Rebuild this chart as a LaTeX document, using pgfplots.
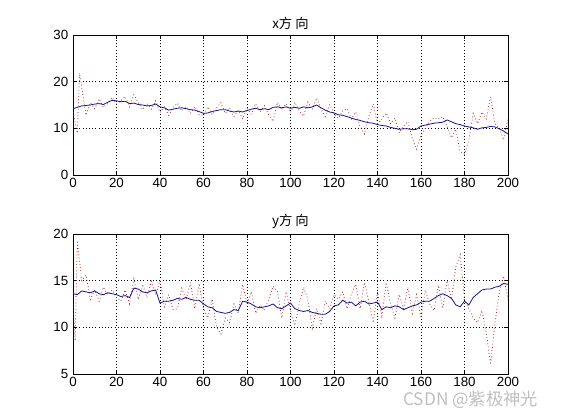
\documentclass[border=0pt]{standalone}
\usepackage{pgfplots}
\pgfplotsset{compat=1.18}
\usepackage{fontspec}
\setmainfont{Liberation Sans}
\newfontfamily\cjk{Noto Sans CJK SC}
\definecolor{mblue}{RGB}{20,20,140}
\definecolor{mred}{RGB}{175,40,40}
\pgfplotsset{
  mstyle/.style={
    scale only axis, width=326.25pt, height=105pt,
    xmin=0, xmax=200, xtick={0,20,...,200},
    grid=major, major grid style={black, dotted, line width=0.6pt},
    tick align=inside, major tick length=3pt,
    tick style={black, line width=0.4pt},
    axis line style={black, line width=0.5pt},
    tick label style={font=\fontsize{10}{12}\selectfont},
    /pgf/number format/assume math mode=true,
    xticklabel style={yshift=1pt},
    title style={font=\cjk\fontsize{10}{12}\selectfont, yshift=-5.5pt},
    anchor=south west,
  },
  redl/.style={mred, line width=0.6pt, dash pattern=on 0.6pt off 1.8pt},
  bluel/.style={mblue, line width=0.6pt},
}
\begin{document}
\begin{tikzpicture}[x=1pt,y=1pt]
\path (0,0) rectangle (420.75,315);
\begin{axis}[mstyle, at={(54.75pt,183.75pt)}, ymin=0, ymax=30, ytick={0,10,20,30}, title={x方 向}]
\addplot[redl] coordinates {
(0,13.5)(2,9.0)(3,21.8)(6,12.8)(8,15.5)(10,14.2)(12,16.3)(14,14.5)(16,15.3)(18,16.6)(20,15.2)(22,15.9)(24,16.8)(26,14.6)(28,17.2)(30,15.5)(32,14.0)(34,15.3)(36,14.1)(38,15.9)(40,13.4)(42,14.6)(44,12.8)(46,14.4)(48,15.4)(50,13.7)(52,14.6)(54,13.2)(56,14.6)(58,12.9)(60,12.8)(62,14.6)(64,12.9)(66,14.4)(68,15.5)(70,13.2)(72,14.4)(74,12.5)(76,13.8)(78,12.0)(80,14.3)(82,13.0)(84,15.3)(86,13.5)(88,14.8)(90,12.9)(92,11.5)(94,15.6)(96,14.0)(98,15.3)(100,13.4)(102,15.6)(104,13.8)(106,12.6)(108,15.6)(110,14.0)(112,16.5)(114,14.2)(116,12.5)(118,15.1)(120,13.2)(122,12.1)(124,13.8)(126,14.2)(128,12.0)(130,13.5)(132,10.4)(134,8.8)(136,12.5)(138,15.2)(140,11.0)(142,12.0)(144,13.3)(146,11.0)(148,12.2)(150,9.0)(152,10.5)(154,11.5)(156,7.8)(158,5.5)(160,8.5)(162,10.0)(164,11.5)(166,12.3)(168,12.0)(170,12.5)(172,10.5)(174,8.0)(176,9.8)(178,5.0)(180,4.5)(182,7.5)(184,13.2)(186,11.0)(188,13.5)(190,12.0)(192,16.8)(194,11.0)(196,10.0)(198,7.5)(200,12.0)
};
\addplot[bluel] coordinates {
(0,14.2)(2,14.5)(4,14.8)(6,14.9)(8,15.0)(10,15.2)(12,15.3)(14,15.1)(16,15.6)(18,16.0)(20,15.9)(22,15.7)(24,15.8)(26,15.3)(28,15.4)(30,15.1)(32,15.0)(34,14.8)(36,14.9)(38,15.2)(40,14.6)(42,14.4)(44,13.9)(46,14.1)(48,14.3)(50,14.4)(52,14.2)(54,14.0)(56,13.9)(58,13.6)(60,13.2)(62,13.3)(64,13.6)(66,13.8)(68,14.0)(70,14.0)(72,13.7)(74,13.5)(76,13.7)(78,13.5)(80,13.8)(82,14.1)(84,14.3)(86,14.0)(88,14.2)(90,14.0)(92,14.5)(94,14.6)(96,14.4)(98,14.6)(100,14.3)(102,14.5)(104,14.3)(106,14.6)(108,14.4)(110,14.6)(112,15.0)(114,14.4)(116,13.9)(118,13.5)(120,13.3)(122,12.9)(124,12.8)(126,12.5)(128,12.2)(130,11.9)(132,11.7)(134,11.4)(136,11.2)(138,11.1)(140,10.8)(142,10.6)(144,10.5)(146,10.2)(148,10.0)(150,9.8)(152,9.9)(154,9.9)(156,9.7)(158,9.8)(160,10.5)(162,10.7)(164,10.9)(166,11.1)(168,11.2)(170,11.3)(172,11.8)(174,11.4)(176,11.0)(178,10.8)(180,10.5)(182,10.3)(184,10.1)(186,9.8)(188,10.1)(190,10.2)(192,10.4)(194,10.3)(196,9.9)(198,9.4)(200,8.8)
};
\end{axis}
\begin{axis}[mstyle, at={(54.75pt,34.5pt)}, ymin=5, ymax=20, ytick={5,10,15,20}, title={y方 向}]
\addplot[redl] coordinates {
(0,12.5)(1,8.6)(2,19.3)(4,15.0)(6,15.6)(8,13.0)(10,14.0)(12,12.8)(14,14.3)(16,13.5)(18,14.0)(20,13.2)(22,12.8)(24,14.0)(26,12.5)(28,15.2)(30,13.0)(32,14.6)(34,13.2)(36,14.9)(38,13.5)(40,15.0)(42,12.2)(44,13.5)(46,11.9)(48,12.0)(50,14.2)(52,13.0)(54,14.8)(56,12.0)(58,14.7)(60,12.0)(62,11.0)(64,13.0)(66,10.0)(68,9.3)(70,11.0)(72,10.5)(74,12.5)(76,11.5)(78,14.6)(80,12.5)(82,13.8)(84,11.5)(86,12.4)(88,11.8)(90,13.0)(92,14.4)(94,13.9)(96,11.0)(98,13.8)(100,11.8)(102,10.2)(104,12.5)(106,14.3)(108,13.0)(110,9.9)(112,12.0)(114,10.4)(116,12.8)(118,12.0)(120,13.5)(122,13.0)(124,13.8)(126,12.0)(128,13.6)(130,14.6)(132,12.0)(134,14.8)(136,12.8)(138,10.5)(140,13.8)(142,11.2)(144,14.8)(146,12.5)(148,11.0)(150,13.5)(152,12.0)(154,14.3)(156,11.5)(158,13.5)(160,11.0)(162,14.0)(164,12.5)(166,11.8)(168,14.5)(170,12.0)(172,15.0)(174,13.0)(176,16.5)(178,17.8)(180,13.0)(182,12.0)(184,11.0)(186,10.5)(188,11.8)(190,9.5)(192,6.0)(194,10.5)(196,13.8)(198,15.5)(200,13.0)
};
\addplot[bluel] coordinates {
(0,13.6)(2,13.5)(4,13.9)(6,13.8)(8,13.7)(10,13.9)(12,13.6)(14,13.5)(16,13.7)(18,13.6)(20,13.5)(22,13.3)(24,13.4)(26,13.2)(28,14.2)(30,14.1)(32,13.8)(34,13.7)(36,13.9)(38,14.0)(40,12.6)(42,12.8)(44,12.8)(46,12.9)(48,13.1)(50,13.0)(52,13.2)(54,13.0)(56,12.9)(58,12.9)(60,12.5)(62,12.2)(64,12.1)(66,11.7)(68,11.6)(70,11.5)(72,11.6)(74,11.9)(76,11.8)(78,12.8)(80,12.7)(82,12.5)(84,12.2)(86,12.1)(88,12.2)(90,12.3)(92,12.5)(94,12.1)(96,12.0)(98,12.3)(100,12.6)(102,12.0)(104,11.8)(106,11.7)(108,11.8)(110,11.6)(112,11.5)(114,11.4)(116,11.4)(118,11.7)(120,12.3)(122,12.4)(124,12.9)(126,12.6)(128,12.7)(130,12.3)(132,12.7)(134,12.8)(136,12.5)(138,12.6)(140,12.7)(142,11.9)(144,12.2)(146,12.1)(148,12.3)(150,12.2)(152,11.9)(154,12.1)(156,12.3)(158,12.4)(160,12.7)(162,12.8)(164,12.8)(166,13.1)(168,13.4)(170,13.6)(172,13.4)(174,13.1)(176,12.4)(178,12.2)(180,12.8)(182,12.4)(184,13.2)(186,13.6)(188,14.0)(190,14.1)(192,14.1)(194,14.3)(196,14.4)(198,14.7)(200,14.6)
};
\end{axis}
\node[anchor=center, text=black!25, font=\cjk\fontsize{13}{15}\selectfont] at (353pt,15pt) {CSDN @紫极神光};
\end{tikzpicture}
\end{document}
